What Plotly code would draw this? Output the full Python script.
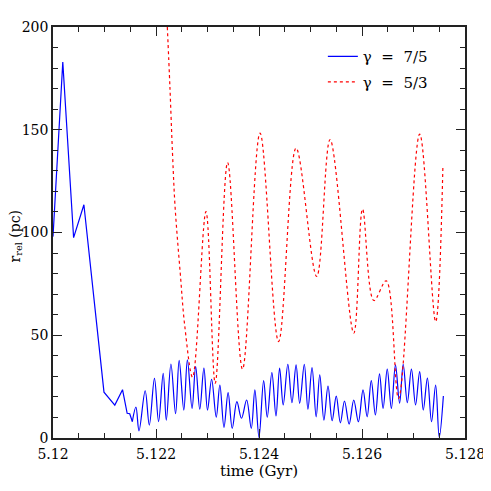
import plotly.graph_objects as go

# Blue (gamma = 7/5): initial piecewise part
blue_head_t = [5.12000, 5.12019, 5.12040, 5.12060, 5.12099, 5.12120, 5.12135, 5.12144, 5.12149, 5.12154]
blue_head_r = [98, 183, 97.5, 113.5, 22.3, 16, 23.5, 12, 11.8, 8]

# Blue oscillating part (extrema)
blue_t = [5.12154, 5.12161, 5.12167, 5.12179, 5.12187, 5.12197, 5.12205, 5.12214, 5.12220, 5.12229,
          5.12238, 5.12245, 5.12254, 5.12261, 5.12270, 5.12277, 5.12285, 5.12293, 5.12300, 5.12308,
          5.12317, 5.12324, 5.12332, 5.12340, 5.12348, 5.12357, 5.12366, 5.12376, 5.12385, 5.12392,
          5.12400, 5.12409, 5.12416, 5.12425, 5.12433, 5.12440, 5.12447, 5.12456, 5.12464, 5.12472,
          5.12479, 5.12488, 5.12495, 5.12503, 5.12511, 5.12518, 5.12526, 5.12534, 5.12542, 5.12550,
          5.12558, 5.12566, 5.12575, 5.12584, 5.12593, 5.12602, 5.12610, 5.12618, 5.12626, 5.12634,
          5.12641, 5.12649, 5.12657, 5.12665, 5.12673, 5.12680, 5.12688, 5.12696, 5.12704, 5.12712,
          5.12719, 5.12727, 5.12735, 5.12743, 5.12750, 5.12758]
blue_r = [8, 15, 3.5, 23, 6.3, 29, 8, 31.5, 8.7, 36,
          11.8, 37.8, 13.6, 38, 14.4, 34.7, 14, 34, 13.6, 28.6,
          10.1, 25.8, 5.2, 22.1, 4.7, 17.7, 9.6, 18.5, 4.7, 23.4,
          0.3, 27.9, 10.1, 31.8, 10.7, 34, 16.1, 35.9, 17.2, 35.6,
          16.9, 35.9, 14, 34.2, 10.3, 30.7, 8.7, 25.3, 8.4, 20.4,
          7.4, 18, 6.8, 18.5, 7.9, 23.4, 10.3, 27.9, 11.2, 31.2,
          14.4, 33.5, 14.4, 35.6, 16.9, 35.9, 17.2, 33.5, 16.1, 32.3,
          13.6, 29.1, 7.9, 25.8, 0.3, 20.4]

# Red (gamma = 5/3)
red_t = [5.12222, 5.12227, 5.12232, 5.12237, 5.12247, 5.12256, 5.12271, 5.12297, 5.12315, 5.12339,
         5.12368, 5.12402, 5.12438, 5.12472, 5.12512, 5.12538, 5.12584, 5.12601, 5.12623, 5.12647,
         5.12671, 5.12712, 5.12743, 5.12757]
red_r = [200, 171, 138.8, 112.7, 80.4, 54.2, 29.6, 110.2, 26.6, 134.1,
         33.5, 148.4, 46.9, 141.1, 78.6, 145.2, 51.0, 111.4, 66.9, 76.5,
         19.3, 147.9, 56.6, 131.4]

x_ticks = [5.120, 5.122, 5.124, 5.126, 5.128]
x_ticktext = ["5.12", "5.122", "5.124", "5.126", "5.128"]
y_ticks = [0, 50, 100, 150, 200]
y_ticktext = ["0", "50", "100", "150", "200"]
x_title = "time (Gyr)"
y_title = "r<sub>rel</sub> (pc)"

serif = "DejaVu Serif"

fig = go.Figure()
fig.add_trace(go.Scatter(x=blue_head_t, y=blue_head_r, mode="lines",
                         line=dict(color="#0000ff", width=1.2),
                         legendgroup="a", showlegend=False, hoverinfo="skip"))
fig.add_trace(go.Scatter(x=blue_t, y=blue_r, mode="lines",
                         line=dict(color="#0000ff", width=1.2, shape="spline", smoothing=1),
                         name="γ\u00a0\u00a0=\u00a0\u00a07/5", legendgroup="a"))
fig.add_trace(go.Scatter(x=red_t, y=red_r, mode="lines",
                         line=dict(color="#ff0000", width=1.2, dash="dot", shape="spline", smoothing=1),
                         name="γ\u00a0\u00a0=\u00a0\u00a05/3", legendgroup="b"))

axis_common = dict(showgrid=False, zeroline=False, showline=True, linecolor="#222222",
                   linewidth=1.5, mirror="ticks", ticks="inside", tickcolor="#222222",
                   tickwidth=1.2, ticklen=9,
                   tickfont=dict(family=serif, size=14, color="black"))

fig.update_xaxes(range=[5.12, 5.128], tickvals=x_ticks, ticktext=x_ticktext,
                 ticklabelstandoff=2,
                 minor=dict(dtick=0.0005, tick0=5.12, ticks="inside", ticklen=5,
                            tickcolor="#222222", tickwidth=1.2),
                 **axis_common)
fig.update_yaxes(range=[0, 200], tickvals=y_ticks, ticktext=y_ticktext,
                 minor=dict(dtick=10, tick0=0, ticks="inside", ticklen=5,
                            tickcolor="#222222", tickwidth=1.2),
                 **axis_common)

fig.add_annotation(text=x_title, xref="paper", yref="paper", x=0.5, y=0,
                   xanchor="center", yanchor="middle", yshift=-33, showarrow=False,
                   font=dict(family=serif, size=15, color="black"))
fig.add_annotation(text=y_title, xref="paper", yref="paper", x=0, y=0.5,
                   xanchor="center", yanchor="middle", xshift=-38, yshift=-4,
                   textangle=-90, showarrow=False,
                   font=dict(family=serif, size=14, color="black"))

# page body has an 8px default margin, so the figure is sized/offset to compensate
fig.update_layout(
    width=483, height=483,
    margin=dict(l=45, r=26, t=19, b=53, autoexpand=False),
    paper_bgcolor="white", plot_bgcolor="white",
    showlegend=True,
    legend=dict(x=0.655, y=0.968, xanchor="left", yanchor="top",
                font=dict(family=serif, size=15, color="black"),
                bgcolor="rgba(0,0,0,0)", tracegroupgap=3),
)

fig.write_html("out.html")
